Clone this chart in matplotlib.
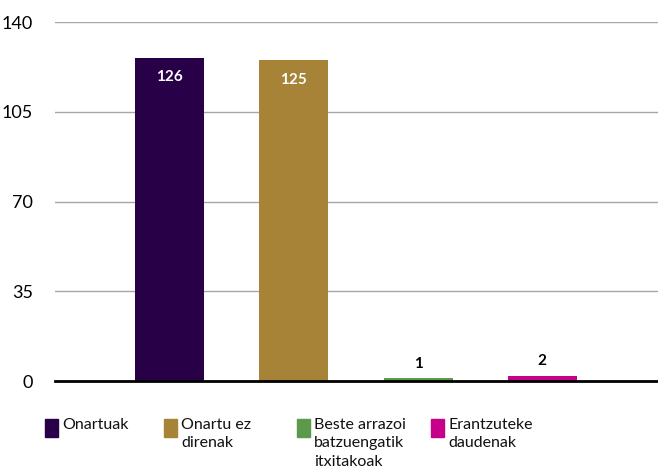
import matplotlib

matplotlib.use("Agg")
import matplotlib.pyplot as plt
from matplotlib.patches import Rectangle

CATEGORIES = ["Onartuak", "Onartu ez\ndirenak", "Beste arrazoi\nbatzuengatik\nitxitakoak", "Erantzuteke\ndaudenak"]
VALUES = [126, 125, 1, 2]
COLORS = ["#280047", "#A68336", "#5B9A4B", "#C6008A"]
Y_TICKS = [0, 35, 70, 105, 140]

W, H = 658, 470

plt.rcParams["font.family"] = ["Lato", "DejaVu Sans"]

fig = plt.figure(figsize=(W / 100, H / 100), dpi=100)
ax = fig.add_axes([55 / W, 1 - 381 / H, 1 - 55 / W, (381 - 22) / H])

xs = list(range(len(VALUES)))
ax.bar(xs, VALUES, width=0.555, color=COLORS, zorder=3)

for x, v in zip(xs, VALUES):
    if v > 20:
        ax.text(x, v - 7.5, str(v), ha="center", va="center", color="white",
                fontsize=11, fontweight="bold", zorder=4)
    else:
        ax.text(x, v + 3, str(v), ha="center", va="bottom", color="black",
                fontsize=11, fontweight="bold", zorder=4)

ax.set_xlim(-0.92, 3.93)
ax.set_ylim(0, 140)
ax.set_yticks(Y_TICKS)
ax.set_yticklabels([str(t) for t in Y_TICKS], fontsize=13)
ax.tick_params(axis="y", length=0, pad=16)
ax.set_xticks([])
ax.grid(axis="y", color="#a6a6a6", linewidth=1, zorder=0)
for side in ("left", "right", "top"):
    ax.spines[side].set_visible(False)
ax.spines["bottom"].set_color("black")
ax.spines["bottom"].set_linewidth(2)
ax.spines["bottom"].set_zorder(5)

# legend drawn by hand under the axis
legend_x = [45, 164, 297, 431]
for lx, label, color in zip(legend_x, CATEGORIES, COLORS):
    fig.add_artist(Rectangle((lx / W, 1 - 437 / H), 13 / W, 18 / H,
                             transform=fig.transFigure, color=color))
    fig.text((lx + 17) / W, 1 - 418 / H, label, ha="left", va="top",
             fontsize=11.5, linespacing=1.4, color="#111111")

fig.savefig("out.png", dpi=100)
